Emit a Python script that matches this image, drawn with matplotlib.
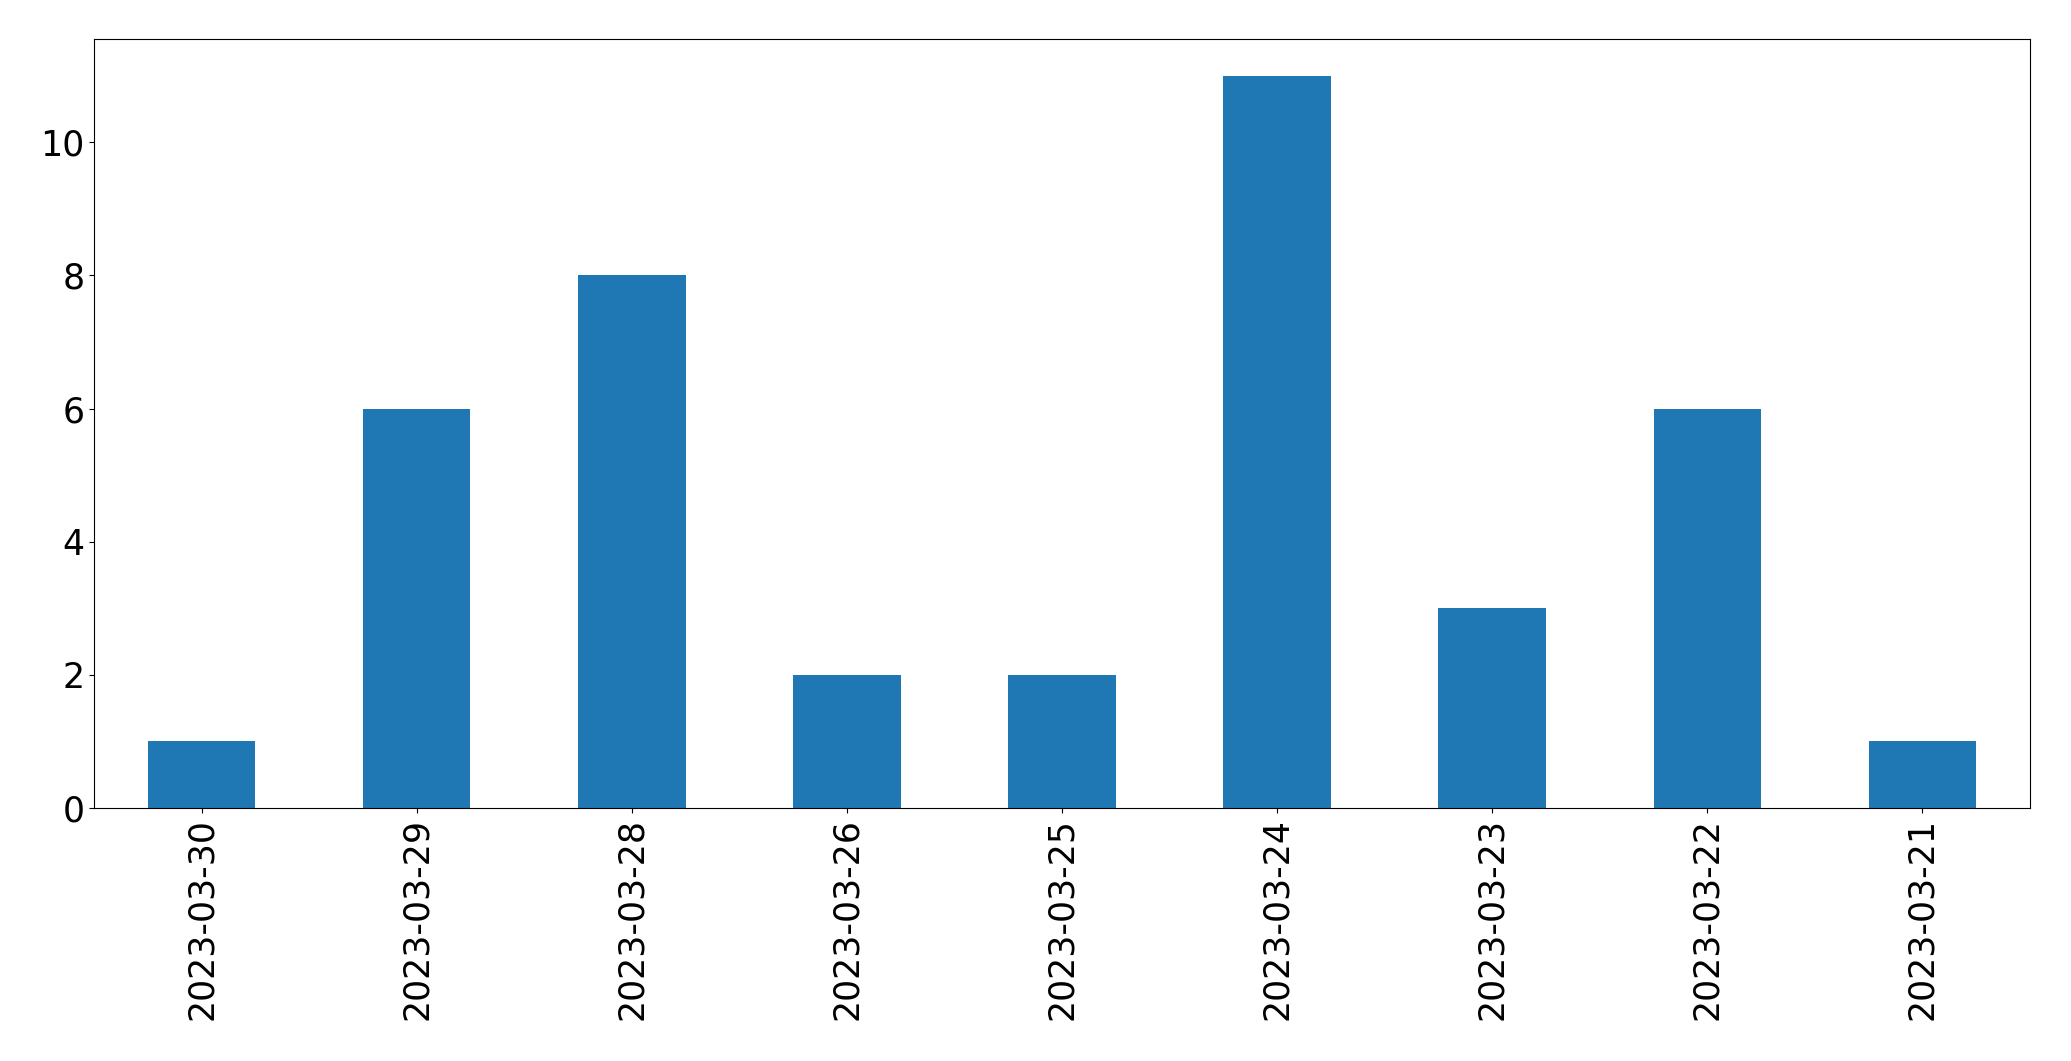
import matplotlib
matplotlib.use("Agg")
import matplotlib.pyplot as plt
import pandas as pd

dates = ["2023-03-30", "2023-03-29", "2023-03-28", "2023-03-26", "2023-03-25",
         "2023-03-24", "2023-03-23", "2023-03-22", "2023-03-21"]
counts = [1, 6, 8, 2, 2, 11, 3, 6, 1]

s = pd.Series(counts, index=dates)

fig, ax = plt.subplots(figsize=(20.71, 10.61), dpi=100)
s.plot(kind="bar", ax=ax, color="#1f77b4")
ax.tick_params(axis="both", labelsize=25)
fig.subplots_adjust(left=94 / 2071, right=2030 / 2071, top=1 - 39 / 1061, bottom=1 - 808 / 1061)

fig.savefig("out.png", dpi=100)
